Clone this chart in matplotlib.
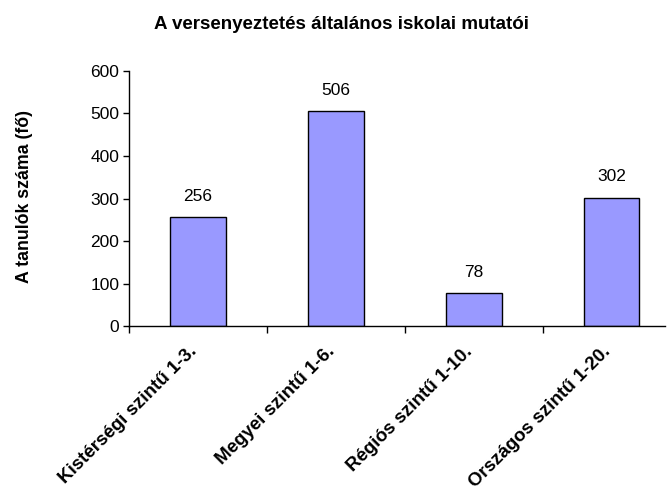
import matplotlib
matplotlib.use("Agg")
import matplotlib.pyplot as plt
from matplotlib.ticker import FixedLocator

plt.rcParams['font.family'] = ['Liberation Sans', 'DejaVu Sans']

categories = ["Kistérségi szintű 1-3.", "Megyei szintű 1-6.", "Régiós szintű 1-10.", "Országos szintű 1-20."]
values = [256, 506, 78, 302]
yticks = [0, 100, 200, 300, 400, 500, 600]
title = "A versenyeztetés általános iskolai mutatói"
ylabel = "A tanulók száma (fő)"

fig = plt.figure(figsize=(6.72, 4.92), dpi=100)
ax = fig.add_axes([0.192, 0.337, 0.798, 0.519])

x = list(range(len(categories)))
ax.bar(x, values, width=0.4, color="#9999FF", edgecolor="black", linewidth=1.0)

for xi, v in zip(x, values):
    ax.annotate(str(v), (xi, v), xytext=(0, 15), textcoords="offset points",
                ha="center", va="center", fontsize=12.5)

ax.set_xlim(-0.5, 3.387)
ax.set_ylim(0, 600)
ax.set_yticks(yticks)
ax.tick_params(axis="y", labelsize=12.5, length=4, width=1, direction="out", pad=3)

ax.set_xticks(x)
ax.set_xticklabels([])
ax.tick_params(axis="x", which="major", length=0)
ax.xaxis.set_minor_locator(FixedLocator([-0.5, 0.5, 1.5, 2.5]))
ax.tick_params(axis="x", which="minor", length=5, width=1, direction="out")

for xi, c in zip(x, categories):
    ax.annotate(c, (xi, 0), xytext=(-7, -12), textcoords="offset points",
                ha="right", va="top", rotation=45, rotation_mode="anchor",
                fontsize=13.5, fontweight="bold")

for s in ["top", "right"]:
    ax.spines[s].set_visible(False)
ax.spines["left"].set_linewidth(1)
ax.spines["bottom"].set_linewidth(1)

fig.text(25 / 672, 1 - 196.5 / 492, ylabel, rotation=90, ha="center", va="center",
         fontsize=12.8, fontweight="bold")
fig.text(342 / 672, 1 - 29 / 492, title, ha="center", va="baseline",
         fontsize=13.5, fontweight="bold")

fig.savefig("out.png", dpi=100)
